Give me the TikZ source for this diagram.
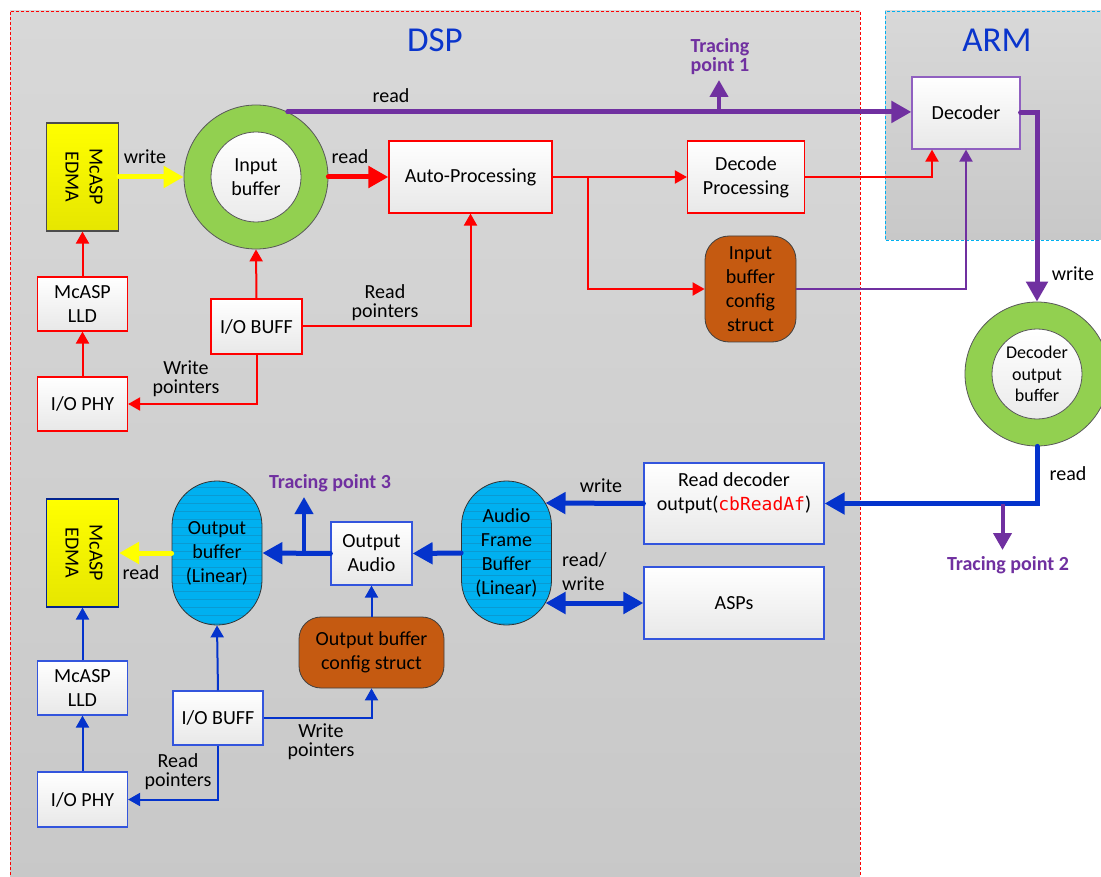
\documentclass[tikz,border=0pt]{standalone}
\usepackage{fontspec}
\setmainfont{Carlito}
\newfontfamily\codefont{DejaVu Sans Mono}
\usetikzlibrary{arrows.meta,calc}

\definecolor{linered}{HTML}{FF0000}
\definecolor{linepurple}{HTML}{7030A0}
\definecolor{lineblue}{HTML}{0433CC}
\definecolor{boxblue}{HTML}{3355DD}
\definecolor{armcyan}{HTML}{00B0F0}
\definecolor{ringgreen}{HTML}{92D050}
\definecolor{bufcyan}{HTML}{00B0F0}
\definecolor{bufline}{HTML}{0A9AD2}
\definecolor{structbrown}{HTML}{C55A11}
\definecolor{edmatop}{HTML}{FFFF00}
\definecolor{edmabot}{HTML}{E6E600}
\definecolor{titleblue}{HTML}{0A35CC}
\definecolor{regiontop}{HTML}{D8D8D8}
\definecolor{regionbot}{HTML}{C8C8C8}
\definecolor{decpurple}{HTML}{9060C0}

\begin{document}
\begin{tikzpicture}[x=1pt,y=-1pt,
  every node/.style={font=\fontsize{20}{24}\selectfont, align=center, inner sep=0pt},
  lbl/.style={font=\fontsize{20}{19}\selectfont},
  title/.style={font=\fontsize{35}{40}\selectfont, text=titleblue},
  trace/.style={font=\bfseries\fontsize{20}{19}\selectfont, text=linepurple},
  proc/.style={draw=#1, line width=1.2pt, top color=white, bottom color=black!9},
  edma/.style={draw=#1, line width=1.2pt, top color=edmatop, bottom color=edmabot,
    minimum width=72pt, minimum height=108pt},
  ring/.style={circle, draw=black!65, line width=0.8pt, fill=ringgreen, minimum size=144pt},
  hole/.style={circle, draw=black!65, line width=0.8pt, top color=white, bottom color=black!8,
    minimum size=90pt},
  stadium/.style={rectangle, rounded corners=45pt, draw=black!80, line width=0.8pt,
    fill=bufcyan, minimum width=90pt, minimum height=144pt,
    path picture={\foreach \k in {6,14,...,142}{
      \draw[bufline, line width=0.6pt]
        ([yshift=-\k*1pt]path picture bounding box.north west) --
        ([yshift=-\k*1pt]path picture bounding box.north east);}}},
  cfgstruct/.style={rectangle, rounded corners=#1, draw=black!75, line width=0.8pt,
    fill=structbrown},
  flowthin/.style={draw=#1, line width=2pt, -{Triangle[length=12pt,width=13pt]}},
  flowthick/.style={draw=#1, line width=5pt, line cap=round, -{Triangle[length=20pt,width=21pt]}},
  flowtap/.style={draw=#1, line width=4pt, -{Triangle[length=17pt,width=18pt]}},
]
% canvas and the two processor regions
\fill[white] (0,0) rectangle (1101,877);
\useasboundingbox (0,0) rectangle (1101,877);
\fill[top color=regiontop, bottom color=regionbot] (10,11) rectangle (860,890);
\draw[linered, line width=0.8pt, dash pattern=on 3pt off 2pt] (10,890) -- (10,11) -- (860,11) -- (860,890);
\fill[top color=regiontop, bottom color=regionbot] (885,11) rectangle (1110,240);
\draw[armcyan, line width=0.8pt, dash pattern=on 3pt off 2pt] (1110,11) -- (885,11) -- (885,240) -- (1110,240);
\node[title] (dsp) at (435,40) {DSP};
\node[title] (arm) at (997,40) {ARM};

% ---------- input path ----------
\node[edma=black!70] (edmaT) at (82.5,177) {\rotatebox{-90}{\begin{tabular}{@{}c@{}}McASP\\EDMA\end{tabular}}};
\node[proc=linered, minimum width=90pt, minimum height=54pt] (lldT) at (82.5,304) {McASP\\LLD};
\node[proc=linered, minimum width=90pt, minimum height=54pt] (phyT) at (82.5,404) {I/O PHY};
\node[ring] (inbuf) at (256,177) {};
\node[hole] (inbufc) at (inbuf.center) {Input\\buffer};
\node[proc=linered, minimum width=91pt, minimum height=55pt] (buffT) at (256.5,326.5) {I/O BUFF};
\node[proc=linered, minimum width=163pt, minimum height=72pt] (auto) at (470.5,177) {Auto-Processing};
\node[proc=linered, minimum width=117pt, minimum height=72pt] (decproc) at (746,177) {Decode\\Processing};
\node[cfgstruct=24pt, minimum width=91pt, minimum height=106pt] (inconf) at (750.5,289) {Input\\buffer\\config\\struct};
\node[proc=decpurple, minimum width=108pt, minimum height=72pt] (decoder) at (966,113) {Decoder};
\node[ring] (decbuf) at (1037,374) {};
\node[hole, font=\fontsize{18}{21.5}\selectfont] (decbufc) at (decbuf.center) {Decoder\\output\\buffer};

\draw[flowthick=edmatop] (edmaT.east) -- (inbuf.west);
\draw[flowthick=linered] (inbuf.east) -- (auto.west);
\draw[flowthick=linepurple] (inbuf.64) -- (inbuf.64 -| decoder.west);
\coordinate (tp1tip) at (719,80);
\draw[flowtap=linepurple] (tp1tip |- inbuf.64) -- (tp1tip);
\node[trace] (tp1) at (720,57) {Tracing\\point 1};

\coordinate (split) at (588,177);
\draw[flowthin=linered] (auto.east) -- (decproc.west);
\draw[flowthin=linered] (split) |- (inconf.west);
\draw[flowthin=linered] (decproc.east) -| ([xshift=-34pt]decoder.south);
\draw[flowthin=linepurple] (inconf.east) -| (decoder.south);
\draw[flowthick=linepurple] (decoder.east) -| (decbuf.north);

\draw[flowthin=linered] (buffT.north) -- (inbuf.south);
\draw[flowthin=linered] (buffT.east) -| (auto.south);
\draw[flowthin=linered] (buffT.south) |- (phyT.east);
\draw[flowthin=linered] (lldT.north) -- (edmaT.south);
\draw[flowthin=linered] (phyT.north) -- (lldT.south);

\node (lwT) at (145,157) {write};
\node (lrT) at (350,157) {read};
\node (lrP) at (391,96) {read};
\node[lbl] (lrpT) at (385,303) {Read\\pointers};
\node[lbl] (lwpT) at (186,379) {Write\\pointers};
\node (lwD) at (1073,274) {write};

% ---------- output path ----------
\node[edma=lineblue!70!black] (edmaB) at (82.5,553) {\rotatebox{-90}{\begin{tabular}{@{}c@{}}McASP\\EDMA\end{tabular}}};
\node[proc=boxblue, minimum width=90pt, minimum height=54pt] (lldB) at (82.5,688) {McASP\\LLD};
\node[proc=boxblue, minimum width=90pt, minimum height=55pt] (phyB) at (82.5,799.5) {I/O PHY};
\node[stadium] (outbuf) at (217,553) {Output\\buffer\\(Linear)};
\node[proc=boxblue, minimum width=81pt, minimum height=63pt] (outaud) at (371.5,553.5) {Output\\Audio};
\node[stadium] (afb) at (506.5,553) {Audio\\Frame\\Buffer\\(Linear)};
\node[cfgstruct=22pt, minimum width=145pt, minimum height=71pt] (outconf) at (371.5,652.5) {Output buffer\\config struct};
\node[proc=boxblue, minimum width=90pt, minimum height=54pt] (buffB) at (218,718) {I/O BUFF};
\node[proc=boxblue, minimum width=180pt, minimum height=81pt] (rdo) at (734,503.5)
  {Read decoder\\output(\textcolor{linered}{\codefont\fontsize{18}{24}\selectfont cbReadAf})\\\mbox{}};
\node[proc=boxblue, minimum width=180pt, minimum height=72pt] (asps) at (734,603) {ASPs};

\draw[flowthick=edmatop] (outbuf.west) -- (edmaB.east);
\draw[flowthick=lineblue] (outaud.west) -- (outbuf.east);
\coordinate (tp3tip) at (304,497);
\draw[flowtap=lineblue] (tp3tip |- outaud.west) -- (tp3tip);
\node[trace] (tp3) at (330,483) {Tracing point 3};
\draw[flowthick=lineblue] (afb.west) -- (outaud.east);
\draw[flowthin=lineblue] (outconf.north) -- (outaud.south);
\draw[flowthin=lineblue] (buffB.north) -- (outbuf.south);
\draw[flowthin=lineblue] (buffB.east) -| (outconf.south);
\draw[flowthin=lineblue] (buffB.south) |- (phyB.east);
\draw[flowthin=lineblue] (phyB.north) -- (lldB.south);
\draw[flowthin=lineblue] (lldB.north) -- (edmaB.south);
\draw[flowthick=lineblue] (rdo.west) -- ([xshift=39pt,yshift=50pt]afb.center);
\draw[flowthick=lineblue, {Triangle[length=20pt,width=21pt]}-{Triangle[length=20pt,width=21pt]}]
  ([xshift=39pt,yshift=-50pt]afb.center) -- (asps.west);
\draw[flowthick=lineblue] (decbuf.south) |- (rdo.east);
\coordinate (tp2tip) at (1002.5,550);
\draw[flowtap=linepurple] (tp2tip |- rdo.east) -- (tp2tip);
\node[trace] (tp2) at (1008,565) {Tracing point 2};

\node (lrB) at (141,573) {read};
\node (lwB) at (601,486) {write};
\node[anchor=west, align=left] (lrw) at (562,572) {read/\\write};
\node[lbl] (lwpB) at (321,742) {Write\\pointers};
\node[lbl] (lrpB) at (178,772) {Read\\pointers};
\node (lrD) at (1068,474) {read};
\end{tikzpicture}
\end{document}
